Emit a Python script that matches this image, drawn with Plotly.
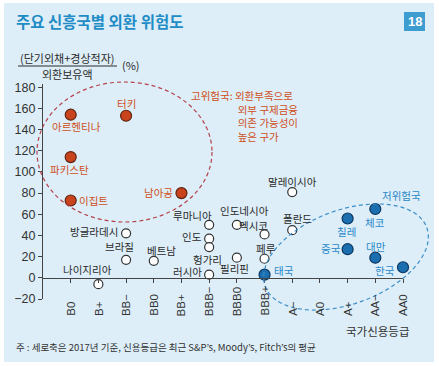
import math
import plotly.graph_objects as go

# ---------------- data ----------------
ratings = ["B0", "B+", "BB−", "BB0", "BB+", "BBB−", "BBB0", "BBB+",
           "A−", "A0", "A+", "AA−", "AA0"]
y_ticks = [-20, 0, 20, 40, 60, 80, 100, 120, 140, 160, 180]

high_countries = ["아르헨티나", "터키", "파키스탄", "이집트", "남아공"]
high_ratings = ["B0", "BB−", "B0", "B0", "BB+"]
high_values = [154, 153, 114, 73, 80]

mid_countries = ["말레이시아", "루마니아", "인도네시아", "멕시코", "폴란드", "인도", "헝가리",
                 "필리핀", "페루", "러시아", "방글라데시", "브라질", "베트남", "나이지리아"]
mid_ratings = ["A−", "BBB−", "BBB0", "BBB+", "A−", "BBB−", "BBB−",
               "BBB0", "BBB+", "BBB−", "BB−", "BB−", "BB0", "B+"]
mid_values = [81, 50, 50, 41, 45, 37, 29, 19, 18, 3, 42, 17, 16, -6]

low_countries = ["태국", "칠레", "체코", "중국", "대만", "한국"]
low_ratings = ["BBB+", "A+", "AA−", "A+", "AA−", "AA0"]
low_values = [3, 56, 65, 27, 19, 10]

# ---------------- layout helpers ----------------
W, H = 439, 366
L, R, T, B = 43, 403, 84, 299
XMIN, XMAX = -1.0, 12.0
YMIN, YMAX = -20, 183
FONT = "Noto Sans CJK KR, Noto Sans, sans-serif"
NUMFONT = "Liberation Sans, Arial, sans-serif"
LBL = 10.5


def pxX(X):
    return (X - L) / (R - L)


def pxY(Y):
    return (B - Y) / (B - T)


def idx(lst):
    return [ratings.index(r) for r in lst]


RED = "#c9441c"
RED_TXT = "#cf4f22"
BLUE = "#1c6fae"
BLUE_TXT = "#2a88c8"
DARK = "#2a2a2a"

# label placement (anchor, xshift, yshift) keyed by country
label_pos = {
    "아르헨티나": ("center", 6, -12), "터키": ("center", 0, 12), "파키스탄": ("center", -1, -12),
    "이집트": ("left", 6, 0), "남아공": ("right", -6, 1),
    "말레이시아": ("center", 0, 11), "루마니아": ("right", 5, 9), "인도네시아": ("center", 8, 14),
    "멕시코": ("center", -11, 9), "폴란드": ("center", 5, 12), "인도": ("right", -5, 2),
    "헝가리": ("center", -2, -12), "필리핀": ("center", -2, -11), "페루": ("center", 1, 10),
    "러시아": ("right", -5, 3), "방글라데시": ("right", -6, 2), "브라질": ("center", -7, 13),
    "베트남": ("center", 8, 10), "나이지리아": ("center", -11, 15),
    "태국": ("left", 7, 4), "칠레": ("center", -1, -13), "체코": ("center", 0, -14),
    "중국": ("right", -5, 1), "대만": ("center", 1, 11), "한국": ("right", -6, -3),
}

fig = go.Figure()

fig.add_trace(go.Scatter(
    x=idx(mid_ratings), y=mid_values, mode="markers", cliponaxis=False,
    marker=dict(size=9, color="white", line=dict(color="#333333", width=1.2)),
    hovertext=mid_countries, showlegend=False))
fig.add_trace(go.Scatter(
    x=idx(high_ratings), y=high_values, mode="markers", cliponaxis=False,
    marker=dict(size=11, color=RED, line=dict(color="#5e2412", width=1.2)),
    hovertext=high_countries, showlegend=False))
fig.add_trace(go.Scatter(
    x=idx(low_ratings), y=low_values, mode="markers", cliponaxis=False,
    marker=dict(size=11, color=BLUE, line=dict(color="#0b3560", width=1.2)),
    hovertext=low_countries, showlegend=False))

annotations = []


def add_labels(names, rts, vals, color):
    for n, r, v in zip(names, rts, vals):
        anc, xs, ys = label_pos[n]
        annotations.append(dict(
            x=ratings.index(r), y=v, xref="x", yref="y", text=n, showarrow=False,
            xanchor=anc, yanchor="middle", xshift=xs, yshift=ys,
            font=dict(family=FONT, size=LBL, color=color)))


add_labels(high_countries, high_ratings, high_values, RED_TXT)
add_labels(mid_countries, mid_ratings, mid_values, DARK)
add_labels(low_countries, low_ratings, low_values, BLUE_TXT)

# rotated x tick labels, bottom aligned
for i, r in enumerate(ratings):
    annotations.append(dict(
        x=i, y=pxY(318), xref="x", yref="paper", text=r, showarrow=False,
        textangle=-90, xanchor="center", yanchor="bottom",
        font=dict(family=NUMFONT, size=11.5, color="#333333")))

INDENT = "\u3000\u3000\u3000\u3000\u00a0\u00a0"
risk_text = ("고위험국: 외환부족으로<br>" + INDENT + "외부 구제금융<br>" + INDENT +
             "의존 가능성이<br>" + INDENT + "높은 구가")

# texts
annotations += [
    dict(x=pxX(14), y=pxY(21), xref="paper", yref="paper", text="<b>주요 신흥국별 외환 위험도</b>",
         showarrow=False, xanchor="left", yanchor="middle",
         font=dict(family=FONT, size=15.5, color="#1f8cc6")),
    dict(x=pxX(414.5), y=pxY(21.5), xref="paper", yref="paper", text="<b>18</b>",
         showarrow=False, xanchor="center", yanchor="middle",
         font=dict(family=NUMFONT, size=13, color="white")),
    dict(x=pxX(67), y=pxY(58), xref="paper", yref="paper", text="(단기외채+경상적자)",
         showarrow=False, xanchor="center", yanchor="middle",
         font=dict(family=FONT, size=11, color=DARK)),
    dict(x=pxX(67), y=pxY(73.5), xref="paper", yref="paper", text="외환보유액",
         showarrow=False, xanchor="center", yanchor="middle",
         font=dict(family=FONT, size=11, color=DARK)),
    dict(x=pxX(120), y=pxY(65), xref="paper", yref="paper", text="(%)",
         showarrow=False, xanchor="left", yanchor="middle",
         font=dict(family=FONT, size=11, color=DARK)),
    dict(x=pxX(189), y=pxY(86), xref="paper", yref="paper", text=risk_text,
         showarrow=False, xanchor="left", yanchor="top", align="left",
         font=dict(family=FONT, size=LBL, color=RED_TXT)),
    dict(x=pxX(401), y=pxY(195), xref="paper", yref="paper", text="저위험국",
         showarrow=False, xanchor="center", yanchor="middle",
         font=dict(family=FONT, size=LBL, color=BLUE_TXT)),
    dict(x=pxX(377), y=pxY(331), xref="paper", yref="paper", text="국가신용등급",
         showarrow=False, xanchor="center", yanchor="middle",
         font=dict(family=FONT, size=11.5, color="#333333")),
    dict(x=pxX(14), y=pxY(347), xref="paper", yref="paper",
         text="주 : 세로축은 2017년 기준, 신용등급은 최근 S&P’s, Moody’s, Fitch’s의 평균",
         showarrow=False, xanchor="left", yanchor="middle",
         font=dict(family=FONT, size=9.5, color="#333333")),
]

# blue tilted ellipse path (pixel geometry -> paper)
cx, cy, a, b, th = 346, 257, 86, 47, math.radians(20)
pts = []
for k in range(73):
    t = 2 * math.pi * k / 72
    X = cx + a * math.cos(t) * math.cos(th) + b * math.sin(t) * math.sin(th)
    Y = cy - a * math.cos(t) * math.sin(th) + b * math.sin(t) * math.cos(th)
    pts.append(f"{pxX(X):.4f},{pxY(Y):.4f}")
blue_path = "M " + " L ".join(pts) + " Z"

shapes = [
    dict(type="rect", xref="paper", yref="paper", x0=pxX(4), x1=pxX(434), y0=pxY(362), y1=pxY(3),
         fillcolor="#ddeef8", line=dict(width=0), layer="below"),
    dict(type="rect", xref="paper", yref="paper", x0=pxX(404), x1=pxX(425), y0=pxY(31), y1=pxY(12),
         fillcolor="#3d9dd0", line=dict(width=0), layer="below"),
    dict(type="line", xref="paper", yref="paper", x0=pxX(18), x1=pxX(117), y0=pxY(66), y1=pxY(66),
         line=dict(color=DARK, width=1)),
    dict(type="circle", xref="paper", yref="paper", x0=pxX(37), x1=pxX(212), y0=pxY(222), y1=pxY(82),
         line=dict(color="#b5434c", width=1.2, dash="4px,3px")),
    dict(type="path", xref="paper", yref="paper", path=blue_path,
         line=dict(color="#3a8dc8", width=1.2, dash="4px,3px")),
]

fig.update_layout(
    width=W, height=H,
    margin=dict(l=L, r=W - R, t=T, b=H - B, pad=0),
    paper_bgcolor="white", plot_bgcolor="rgba(0,0,0,0)",
    xaxis=dict(range=[XMIN, XMAX], tickvals=list(range(len(ratings))), showticklabels=False,
               ticks="outside", ticklen=4, tickcolor="#444444", showline=True, linecolor="#444444",
               linewidth=1.2, showgrid=False, zeroline=False, anchor="free",
               position=(0 - YMIN) / (YMAX - YMIN)),
    yaxis=dict(range=[YMIN, YMAX], tickvals=y_ticks, ticks="outside", ticklen=4,
               tickcolor="#444444", showline=True, linecolor="#444444", linewidth=1.2,
               showgrid=False, zeroline=False,
               tickfont=dict(family=NUMFONT, size=12.5, color="#333333")),
    annotations=annotations, shapes=shapes, showlegend=False,
)

fig.write_html("out.html", config={"displayModeBar": False},
               post_script="document.body.style.margin='0';document.body.style.padding='0';")
